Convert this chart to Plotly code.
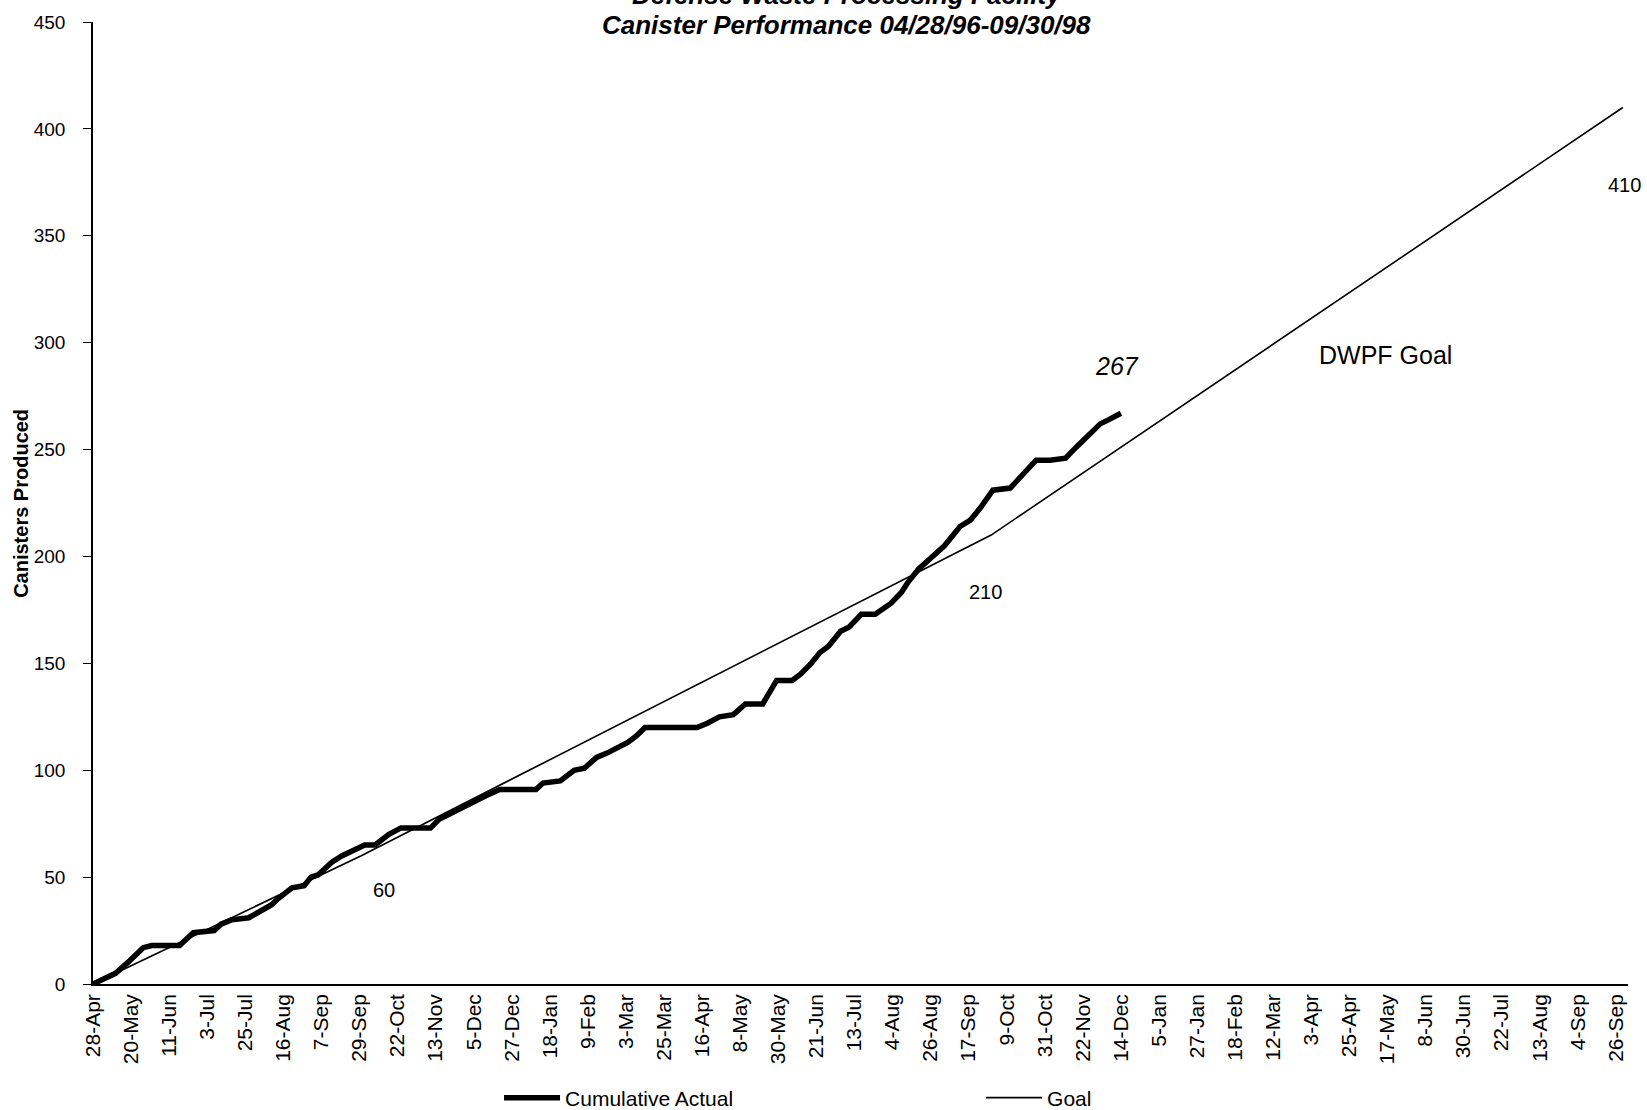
import plotly.graph_objects as go

# x values are day offsets from 28-Apr-96 (category axis, one tick every 22 days)
tick_labels = ["28-Apr", "20-May", "11-Jun", "3-Jul", "25-Jul", "16-Aug", "7-Sep", "29-Sep",
               "22-Oct", "13-Nov", "5-Dec", "27-Dec", "18-Jan", "9-Feb", "3-Mar", "25-Mar",
               "16-Apr", "8-May", "30-May", "21-Jun", "13-Jul", "4-Aug", "26-Aug", "17-Sep",
               "9-Oct", "31-Oct", "22-Nov", "14-Dec", "5-Jan", "27-Jan", "18-Feb", "12-Mar",
               "3-Apr", "25-Apr", "17-May", "8-Jun", "30-Jun", "22-Jul", "13-Aug", "4-Sep", "26-Sep"]
tick_days = [i * 22 for i in range(len(tick_labels))]

actual_day = [0, 6, 13, 20, 29, 34, 50, 58, 70, 74, 80, 90, 103, 107, 115, 122, 126, 130, 138, 144,
              150, 157, 163, 171, 178, 195, 200, 207, 219, 227, 235, 256, 260, 270, 278, 284, 291,
              297, 309, 314, 319, 349, 355, 362, 370, 377, 387, 393, 395, 404, 409, 415, 420, 425,
              432, 437, 444, 452, 461, 467, 471, 477, 484, 492, 501, 507, 513, 520, 530, 538, 545,
              553, 562, 568, 577, 582, 587, 594]
actual_value = [0, 2, 5, 10, 17, 18, 18, 24, 25, 28, 30, 31, 37, 40, 45, 46, 50, 51, 57, 60,
                62, 65, 65, 70, 73, 73, 77, 80, 85, 88, 91, 91, 94, 95, 100, 101, 106,
                108, 113, 116, 120, 120, 122, 125, 126, 131, 131, 140, 142, 142, 145, 150, 155, 158,
                165, 167, 173, 173, 178, 183, 188, 194, 199, 205, 214, 217, 223, 231, 232, 239, 245,
                245, 246, 251, 258, 262, 264, 267]

goal_day = [0, 155, 519, 884]
goal_value = [0, 60, 210, 410]

y_ticks = [0, 50, 100, 150, 200, 250, 300, 350, 400, 450]

FONT = "Liberation Sans, Arial, sans-serif"

fig = go.Figure()
fig.add_trace(go.Scatter(x=goal_day, y=goal_value, mode="lines", name="Goal",
                         line=dict(color="black", width=1.6), legendrank=2))
fig.add_trace(go.Scatter(x=actual_day, y=actual_value, mode="lines", name="Cumulative Actual",
                         line=dict(color="black", width=5.5), legendrank=1))

annotations = [
    dict(text="<b><i>Defense Waste Processing Facility</i></b>", xref="paper", yref="paper",
         x=0.491, y=1.0285, showarrow=False, font=dict(family=FONT, size=26, color="black"),
         xanchor="center", yanchor="middle"),
    dict(text="<b><i>Canister Performance 04/28/96-09/30/98</i></b>", xref="paper", yref="paper",
         x=0.491, y=0.9973, showarrow=False, font=dict(family=FONT, size=26, color="black"),
         xanchor="center", yanchor="middle"),
    dict(text="<b>Canisters Produced</b>", xref="paper", yref="paper", x=-0.047, y=0.5, textangle=-90,
         showarrow=False, font=dict(family=FONT, size=20, color="black"), xanchor="center", yanchor="middle"),
    dict(text="60", x=167.9, y=43.8, showarrow=False, font=dict(family=FONT, size=20, color="black")),
    dict(text="210", x=515.9, y=183.4, showarrow=False, font=dict(family=FONT, size=20, color="black")),
    dict(text="410", x=goal_day[-1], y=goal_value[-1], xshift=2, yshift=-77, showarrow=False,
         font=dict(family=FONT, size=20, color="black")),
    dict(text="<i>267</i>", x=591.9, y=289.3, showarrow=False, font=dict(family=FONT, size=25, color="black")),
    dict(text="DWPF Goal", x=747.0, y=294.0, showarrow=False, font=dict(family=FONT, size=25, color="black")),
]

fig.update_layout(
    width=1647, height=1110,
    margin=dict(l=93, r=19, t=15, b=126),
    paper_bgcolor="white", plot_bgcolor="white",
    font=dict(family=FONT, color="black"),
    showlegend=True,
    legend=dict(orientation="h", xref="container", yref="container", x=0.303, xanchor="left",
                y=0.0108, yanchor="middle",
                font=dict(family=FONT, size=21, color="black"), entrywidth=411, itemwidth=56,
                bgcolor="rgba(0,0,0,0)"),
    annotations=annotations,
    xaxis=dict(range=[0, 887], tickmode="array", tickvals=tick_days, ticktext=tick_labels,
               tickangle=-90, showline=True, linecolor="black", linewidth=1.5, showgrid=False,
               zeroline=False, ticks="", tickfont=dict(family=FONT, size=21, color="black")),
    yaxis=dict(range=[0, 450], tickmode="array", tickvals=y_ticks, showline=True, linecolor="black",
               linewidth=1.5, showgrid=False, zeroline=False, ticks="outside", ticklen=8,
               tickcolor="black", ticklabelstandoff=14, tickfont=dict(family=FONT, size=19, color="black")),
)

fig.write_html("out.html", config={"displayModeBar": False},
               post_script="document.body.style.margin='0';")
